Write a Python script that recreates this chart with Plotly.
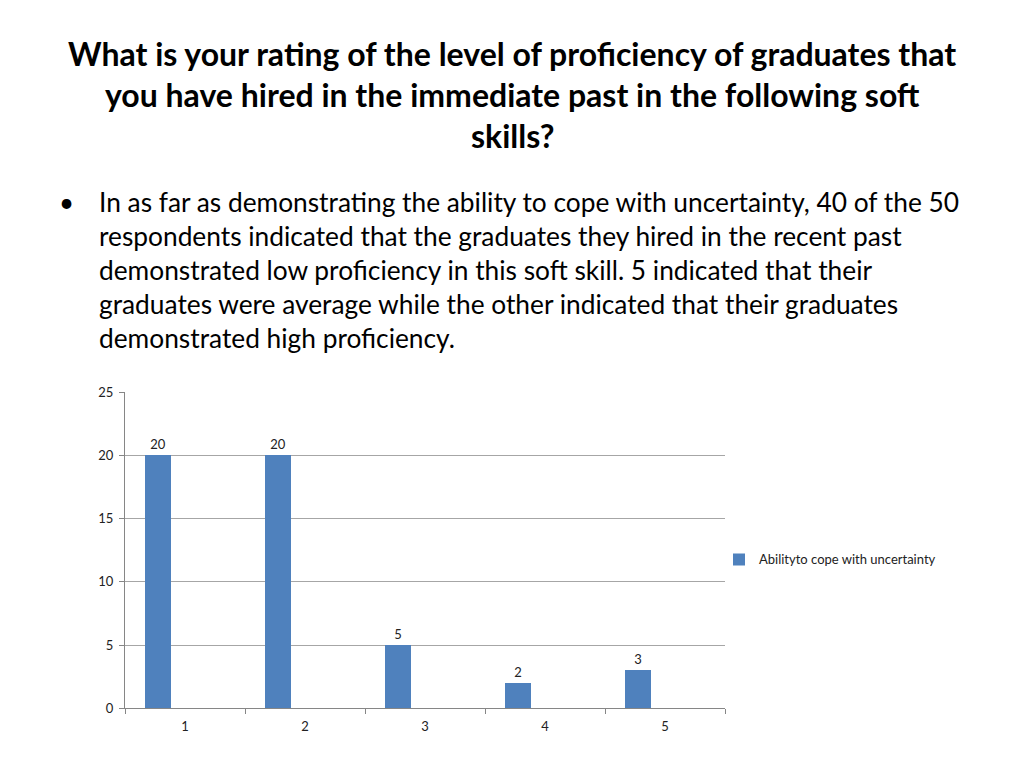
import plotly.graph_objects as go

# data
ratings = [1, 2, 3, 4, 5]
counts = [20, 20, 5, 2, 3]
series_name = "Abilityto cope with uncertainty"

title_lines = [
    "What is your rating of the level of proficiency of graduates that",
    "you have hired in the immediate past in the following soft",
    "skills?",
]
body_lines = [
    "In as far as demonstrating the ability to cope with uncertainty, 40 of the 50",
    "respondents indicated that the graduates they hired in the recent past",
    "demonstrated low proficiency in this soft skill. 5 indicated that their",
    "graduates were average while the other indicated that their graduates",
    "demonstrated high proficiency.",
]

W, H = 1024, 768
FONT = "Lato"
OFF = 8  # page margin around the plot div

fig = go.Figure()
fig.add_trace(go.Bar(
    x=ratings, y=counts, name=series_name,
    marker=dict(color="#4F81BD", line=dict(width=0)),
    offset=-0.333, width=0.217,
    text=counts, textposition="outside",
    textfont=dict(size=13, color="#222222", family=FONT),
    cliponaxis=False,
))

annotations = []
for i, line in enumerate(title_lines):
    annotations.append(dict(
        text="<b>" + line + "</b>", x=(512 - OFF) / W, y=1 - (38 + 42 * i) / H,
        xref="paper", yref="paper", xanchor="center", yanchor="middle",
        showarrow=False, font=dict(size=32, family=FONT, color="black"),
    ))
annotations.append(dict(
    text="•", x=58 / W, y=1 - 190 / H, xref="paper", yref="paper",
    xanchor="center", yanchor="middle", showarrow=False,
    font=dict(size=26, family=FONT, color="black"),
))
for i, line in enumerate(body_lines):
    annotations.append(dict(
        text=line, x=89 / W, y=1 - (190 + 34.7 * i) / H,
        xref="paper", yref="paper", xanchor="left", yanchor="middle",
        showarrow=False, font=dict(size=26.3, family=FONT, color="black"),
    ))

fig.update_layout(
    width=W, height=H,
    margin=dict(l=0, r=0, t=0, b=0),
    paper_bgcolor="white", plot_bgcolor="white",
    font=dict(family=FONT, size=13, color="#222222"),
    showlegend=True,
    legend=dict(x=711 / W, y=1 - (563 - OFF) / H, xanchor="left", yanchor="middle",
                font=dict(size=13, family=FONT, color="#222222"),
                itemwidth=30, bgcolor="rgba(0,0,0,0)"),
    annotations=annotations,
    bargap=0,
)
fig.update_xaxes(
    domain=[(125 - OFF) / W, (725 - OFF) / W], range=[0.5, 5.5],
    tickmode="array", tickvals=ratings, ticks="",
    showgrid=False, showline=True, linecolor="#868686", linewidth=1,
    tickfont=dict(size=13, color="#222222"), ticklabelstandoff=6,
    minor=dict(tickmode="array", tickvals=[0.5, 1.5, 2.5, 3.5, 4.5, 5.5],
               ticks="outside", ticklen=5, tickcolor="#868686", showgrid=False),
    zeroline=False,
)
fig.update_yaxes(
    domain=[1 - (715 - OFF) / H, 1 - (392 - OFF) / H], range=[0, 25],
    tickmode="array", tickvals=[0, 5, 10, 15, 20, 25],
    ticks="outside", ticklen=5, tickcolor="#868686",
    showgrid=True, gridcolor="#A6A6A6", gridwidth=1,
    showline=True, linecolor="#868686", linewidth=1,
    tickfont=dict(size=13, color="#222222"), ticklabelstandoff=3,
    zeroline=False,
)

fig.write_html("out.html")
